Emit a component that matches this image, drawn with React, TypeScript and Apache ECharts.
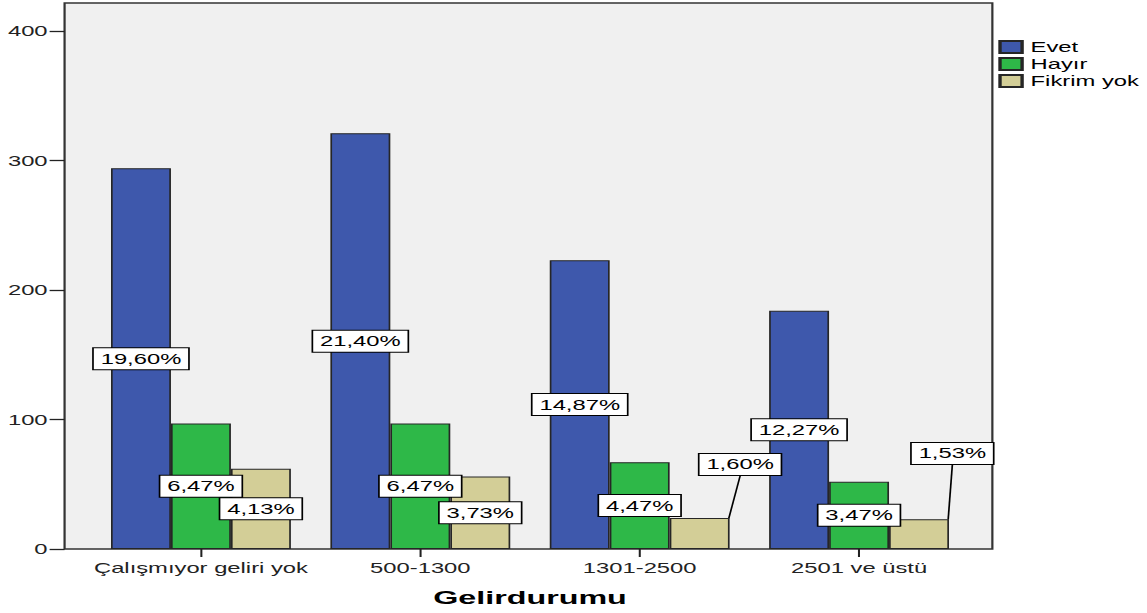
import React, { useEffect, useRef } from "react";
import * as echarts from "echarts";

const categories = ["Çalışmıyor geliri yok", "500-1300", "1301-2500", "2501 ve üstü"];
const seriesNames = ["Evet", "Hayır", "Fikrim yok"];
const evetValues = [294, 321, 223, 184];
const hayirValues = [97, 97, 67, 52];
const fikrimValues = [62, 56, 24, 23];
const evetPct = ["19,60%", "21,40%", "14,87%", "12,27%"];
const hayirPct = ["6,47%", "6,47%", "4,47%", "3,47%"];
const fikrimPct = ["4,13%", "3,73%", "1,60%", "1,53%"];
const yTicks = { min: 0, max: 400, interval: 100 };
const xAxisTitle = "Gelirdurumu";

const OUTER_W = 1147;
const OUTER_H = 613;
const INNER_W = 675;
const SX = OUTER_W / INNER_W;

const FONT = "'Liberation Sans', Arial, sans-serif";
const COLORS = ["#3E58AC", "#2EB848", "#D3CE97"];

export default function App() {
  const ref = useRef<HTMLDivElement>(null);

  useEffect(() => {
    document.body.style.margin = "0";
    if (!ref.current) return;
    const chart = echarts.init(ref.current, undefined, { renderer: "svg" });

    const labelBase = {
      show: true,
      position: "inside",
      color: "#000",
      fontSize: 14,
      fontFamily: FONT,
      backgroundColor: "#fff",
      borderColor: "#000",
      borderWidth: 1,
      padding: [4, 4, 3, 4],
    };

    const makeSeries = (name: string, values: number[], pcts: string[], idx: number) => ({
      name,
      type: "bar",
      barGap: "0%",
      barCategoryGap: "18%",
      itemStyle: { color: COLORS[idx], borderColor: "#262626", borderWidth: 1 },
      label: {
        ...labelBase,
        formatter: (p: any) => pcts[p.dataIndex],
      },
      data: values.map((v) => ({ value: v })),
    });

    const fikrimData = fikrimValues.map((v, i) =>
      i >= 2
        ? { value: v, labelLine: { show: true, lineStyle: { color: "#000", width: 1 } } }
        : { value: v }
    );

    const option: any = {
      animation: false,
      textStyle: { fontFamily: FONT },
      grid: { left: 53.7, right: 104.9, top: 31, bottom: OUTER_H - 549, containLabel: false },
      graphic: [
        {
          type: "rect",
          z: 0,
          silent: true,
          shape: { x: 38, y: 3, width: 546, height: 546 },
          style: { fill: "#F0F0F0", stroke: "#333", lineWidth: 1.3 },
        },
      ],
      legend: {
        orient: "vertical",
        left: 587.5,
        top: 40,
        padding: 0,
        itemWidth: 13,
        itemHeight: 12,
        itemGap: 3,
        icon: "rect",
        data: seriesNames,
        textStyle: { fontSize: 14, color: "#000", fontFamily: FONT, lineHeight: 14 },
      },
      xAxis: {
        type: "category",
        data: categories,
        axisLine: { show: false },
        axisTick: { show: true, alignWithLabel: true, length: 8, lineStyle: { color: "#222", width: 1.2 } },
        axisLabel: { fontSize: 14, color: "#222", margin: 12, fontFamily: FONT, interval: 0 },
        name: xAxisTitle,
        nameLocation: "middle",
        nameGap: 39,
        nameTextStyle: { fontSize: 19, fontWeight: "bold", color: "#000", fontFamily: FONT },
      },
      yAxis: {
        type: "value",
        min: yTicks.min,
        max: yTicks.max,
        interval: yTicks.interval,
        offset: 15.7,
        axisLine: { show: false },
        axisTick: { show: true, length: 8.8, lineStyle: { color: "#222", width: 1.3 } },
        axisLabel: { fontSize: 14, color: "#222", margin: 10, fontFamily: FONT },
        splitLine: { show: false },
      },
      series: [
        makeSeries(seriesNames[0], evetValues, evetPct, 0),
        makeSeries(seriesNames[1], hayirValues, hayirPct, 1),
        {
          ...makeSeries(seriesNames[2], fikrimValues, fikrimPct, 2),
          data: fikrimData,
          labelLayout: (p: any) => {
            if (p.dataIndex === 2) return { dx: 23.8, dy: -69 };
            if (p.dataIndex === 3) return { dx: 19.6, dy: -80.7 };
            return {};
          },
        },
      ],
    };

    chart.setOption(option);
    return () => {
      chart.dispose();
    };
  }, []);

  return (
    <div style={{ width: OUTER_W, height: OUTER_H, overflow: "hidden", background: "#fff" }}>
      <div
        ref={ref}
        style={{
          width: INNER_W,
          height: OUTER_H,
          transform: `scaleX(${SX})`,
          transformOrigin: "0 0",
        }}
      />
    </div>
  );
}
